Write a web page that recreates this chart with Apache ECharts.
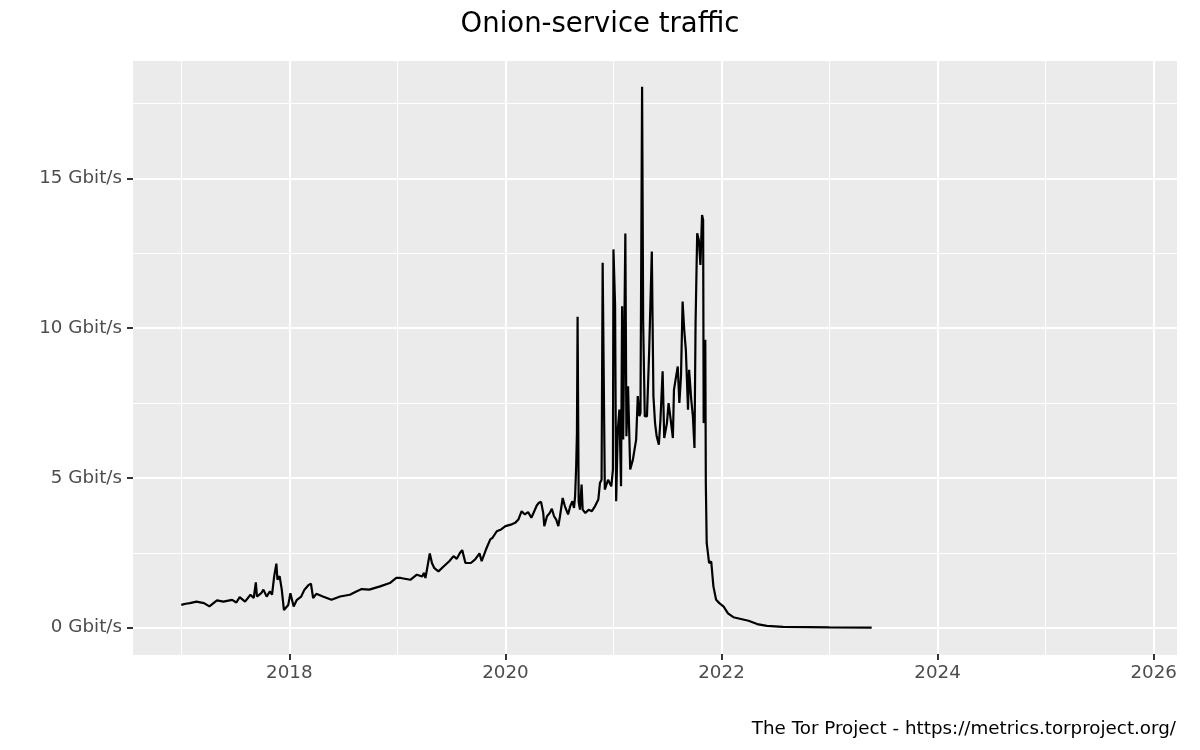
<!DOCTYPE html>
<html>
<head>
<meta charset="utf-8">
<script src="https://cdn.jsdelivr.net/npm/echarts@6/dist/echarts.min.js"></script>
<style>
html,body{margin:0;padding:0;background:#fff;}
#chart{width:1200px;height:750px;}
</style>
</head>
<body>
<div id="chart"></div>
<script>
// Decimal years (x) and onion-service traffic in Gbit/s (y)
const years = [
  2017.00,2017.04,2017.08,2017.14,2017.21,2017.26,2017.33,2017.39,2017.47,2017.51,
  2017.54,2017.59,2017.64,2017.67,2017.69,2017.70,2017.74,2017.76,2017.79,2017.82,
  2017.84,2017.86,2017.88,2017.89,2017.91,2017.93,2017.95,2017.99,2018.01,2018.04,
  2018.07,2018.11,2018.14,2018.18,2018.20,2018.22,2018.25,2018.31,2018.39,2018.47,
  2018.56,2018.62,2018.67,2018.74,2018.84,2018.93,2018.99,2019.03,2019.12,2019.18,
  2019.23,2019.245,2019.26,2019.30,2019.32,2019.34,2019.38,2019.43,2019.48,2019.52,
  2019.55,2019.58,2019.60,2019.63,2019.68,2019.72,2019.76,2019.78,2019.82,2019.86,
  2019.88,2019.92,2019.96,2020.00,2020.05,2020.09,2020.12,2020.15,2020.18,2020.21,
  2020.24,2020.26,2020.29,2020.31,2020.33,2020.35,2020.36,2020.385,2020.41,2020.43,
  2020.45,2020.47,2020.49,2020.505,2020.53,2020.55,2020.58,2020.60,2020.62,2020.635,
  2020.645,2020.655,2020.662,2020.668,2020.678,2020.69,2020.705,2020.715,2020.74,2020.77,
  2020.80,2020.83,2020.86,2020.875,2020.89,2020.90,2020.92,2020.95,2020.98,2020.995,
  2021.00,2021.015,2021.025,2021.04,2021.055,2021.07,2021.08,2021.09,2021.11,2021.12,
  2021.135,2021.155,2021.18,2021.21,2021.225,2021.24,2021.25,2021.265,2021.275,2021.29,
  2021.31,2021.33,2021.355,2021.37,2021.385,2021.40,2021.42,2021.435,2021.455,2021.47,
  2021.495,2021.51,2021.53,2021.55,2021.56,2021.575,2021.595,2021.61,2021.625,2021.64,
  2021.655,2021.67,2021.69,2021.70,2021.72,2021.735,2021.75,2021.76,2021.775,2021.79,
  2021.805,2021.82,2021.83,2021.835,2021.85,2021.855,2021.863,2021.885,2021.905,2021.925,
  2021.95,2021.98,2022.02,2022.06,2022.11,2022.17,2022.25,2022.33,2022.42,2022.57,
  2022.79,2023.00,2023.39
];
const gbits = [
  0.76,0.80,0.82,0.87,0.82,0.71,0.91,0.87,0.93,0.84,
  1.02,0.87,1.10,0.99,1.51,1.04,1.15,1.27,1.04,1.21,
  1.10,1.72,2.14,1.60,1.72,1.27,0.59,0.76,1.15,0.71,
  0.93,1.04,1.27,1.43,1.47,0.99,1.13,1.04,0.93,1.04,
  1.10,1.21,1.29,1.27,1.38,1.49,1.66,1.66,1.60,1.77,
  1.71,1.83,1.66,2.48,2.16,2.00,1.88,2.05,2.22,2.39,
  2.30,2.50,2.59,2.16,2.16,2.28,2.48,2.22,2.61,2.95,
  3.00,3.22,3.28,3.39,3.44,3.50,3.61,3.89,3.78,3.86,
  3.67,3.83,4.08,4.17,4.20,3.83,3.39,3.72,3.83,3.97,
  3.72,3.61,3.39,3.72,4.33,4.06,3.78,4.06,4.22,4.00,
  4.39,5.39,6.50,10.38,4.20,3.94,4.78,3.94,3.83,3.94,
  3.89,4.06,4.28,4.83,4.94,12.18,4.61,4.94,4.72,5.28,
  12.63,10.79,4.22,6.61,7.28,4.72,10.73,6.28,13.16,6.39,
  8.06,5.28,5.61,6.28,7.73,7.06,7.17,18.06,10.18,7.06,
  7.05,9.18,12.56,7.72,6.83,6.39,6.11,6.94,8.56,6.33,
  6.83,7.50,6.94,6.33,7.94,8.28,8.72,7.50,8.39,10.89,
  9.94,9.28,7.28,8.61,7.61,7.06,6.00,10.17,13.17,12.94,
  12.11,13.78,13.61,6.83,9.61,4.80,2.83,2.16,2.21,1.38,
  0.93,0.82,0.70,0.48,0.35,0.30,0.23,0.12,0.06,0.03,
  0.02,0.01,0.005
];
const majorYears = [2018, 2020, 2022, 2024, 2026];
const minorYears = [2017, 2019, 2021, 2023, 2025];
const majorY = [0, 5, 10, 15];
const minorY = [2.5, 7.5, 12.5, 17.5];

const xMin = 2016.553, xMax = 2026.216;
const yMin = -0.912, yMax = 18.92;
const FONT = 'DejaVu Sans';

const chart = echarts.init(document.getElementById('chart'), null, {renderer: 'canvas'});
chart.setOption({
  animation: false,
  backgroundColor: '#ffffff',
  title: [
    {text: 'Onion-service traffic', left: 'center', top: 6,
     textStyle: {fontFamily: FONT, fontWeight: 'normal', fontSize: 27.5, color: '#000'}},
    {text: 'The Tor Project - https://metrics.torproject.org/', right: 19, top: 715,
     textStyle: {fontFamily: FONT, fontWeight: 'normal', fontSize: 18.3, color: '#000'}}
  ],
  grid: {left: 133, top: 61, width: 1044, height: 594, show: true,
         backgroundColor: '#EBEBEB', borderWidth: 0, containLabel: false},
  xAxis: [
    {type: 'value', min: xMin, max: xMax, position: 'bottom',
     axisLine: {show: false, onZero: true, onZeroAxisIndex: 2},
     axisTick: {show: true, inside: false, customValues: majorYears, length: 6, lineStyle: {color: '#333333', width: 2}},
     axisLabel: {customValues: majorYears, formatter: v => String(v), color: '#4D4D4D',
                 fontFamily: FONT, fontSize: 18.3, margin: 9},
     splitLine: {show: true, lineStyle: {color: '#ffffff', width: 2}}},
    {type: 'value', min: xMin, max: xMax, position: 'top',
     axisLine: {show: false, onZero: false},
     axisTick: {show: false, customValues: minorYears},
     axisLabel: {show: false, customValues: minorYears},
     splitLine: {show: true, lineStyle: {color: '#ffffff', width: 1}}, z: 1}
  ],
  yAxis: [
    {type: 'value', min: yMin, max: yMax, position: 'left',
     axisLine: {show: false, onZero: false},
     axisTick: {show: true, inside: false, customValues: majorY, length: 6, lineStyle: {color: '#333333', width: 2}},
     axisLabel: {customValues: majorY, formatter: v => v + ' Gbit/s', color: '#4D4D4D',
                 fontFamily: FONT, fontSize: 18.3, margin: 11},
     splitLine: {show: true, lineStyle: {color: '#ffffff', width: 2}}},
    {type: 'value', min: yMin, max: yMax, position: 'right',
     axisLine: {show: false, onZero: false},
     axisTick: {show: false, customValues: minorY},
     axisLabel: {show: false, customValues: minorY},
     splitLine: {show: true, lineStyle: {color: '#ffffff', width: 1}}, z: 1},
    {type: 'value', min: -0.0017, max: 1, position: 'right',
     axisLine: {show: false, onZero: false}, axisTick: {show: false},
     axisLabel: {show: false}, splitLine: {show: false}}
  ],
  series: [{
    type: 'line', xAxisIndex: 0, yAxisIndex: 0,
    data: years.map((y, i) => [y, gbits[i]]),
    showSymbol: false, symbol: 'none',
    lineStyle: {color: '#000000', width: 2.2},
    z: 5
  }]
});
</script>
</body>
</html>
